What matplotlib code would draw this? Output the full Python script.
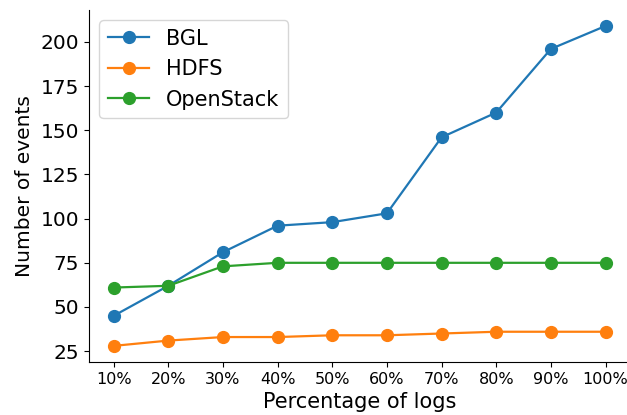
import matplotlib
matplotlib.use("Agg")
import matplotlib.pyplot as plt

percent_labels = ["10%", "20%", "30%", "40%", "50%", "60%", "70%", "80%", "90%", "100%"]
bgl = [45, 62, 81, 96, 98, 103, 146, 160, 196, 209]
hdfs = [28, 31, 33, 33, 34, 34, 35, 36, 36, 36]
openstack = [61, 62, 73, 75, 75, 75, 75, 75, 75, 75]
y_ticks = [25, 50, 75, 100, 125, 150, 175, 200]

fig = plt.figure(figsize=(6.27, 4.15), dpi=100)
ax = fig.add_axes([0.142, 0.128, 0.863, 0.848])

x = range(len(percent_labels))
style = dict(marker="o", markersize=8.5, linewidth=1.6)
ax.plot(x, bgl, color="#1f77b4", label="BGL", **style)
ax.plot(x, hdfs, color="#ff7f0e", label="HDFS", **style)
ax.plot(x, openstack, color="#2ca02c", label="OpenStack", **style)

ax.set_xticks(list(x))
ax.set_xticklabels(percent_labels)
ax.set_yticks(y_ticks)
ax.tick_params(axis="x", labelsize=11.5)
ax.tick_params(axis="y", labelsize=14.5)
ax.set_xlabel("Percentage of logs", fontsize=15)
ax.set_ylabel("Number of events", fontsize=14.5, labelpad=5)
ax.spines["top"].set_visible(False)
ax.spines["right"].set_visible(False)
ax.legend(loc="upper left", fontsize=15)

fig.savefig("out.png", dpi=100)
